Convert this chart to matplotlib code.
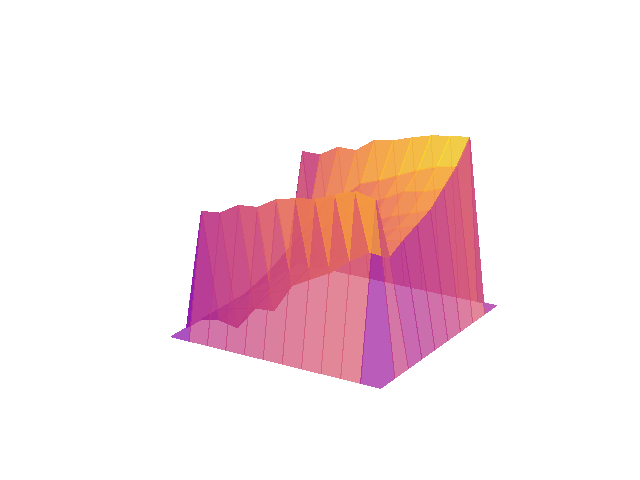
import numpy as np
import matplotlib
matplotlib.use("Agg")
import matplotlib.pyplot as plt

x_vals = list(range(12))
y_vals = list(range(10))

# one list per y row
row0 = [0, 0, 0, 0, 0, 0, 0, 0, 0, 0, 0, 0]
row1 = [0, 34.7, 35.3, 38.5, 39, 42.2, 43.5, 44.4, 46.7, 48.5, 47.3, 0]
row2 = [0, 1, 0, 7, 7.5, 16, 19, 22, 26.5, 30, 29.5, 0]
row3 = [0, 2, 3, 9, 11, 18, 21, 24, 27, 31, 32, 0]
row4 = [0, 4, 6, 11, 13, 20, 23, 26, 29, 32, 34, 0]
row5 = [0, 6, 9, 14, 16, 23, 26, 29, 32, 34, 36, 0]
row6 = [0, 8, 13, 19, 23, 28, 31, 34, 37, 38, 40, 0]
row7 = [0, 10.6, 18, 27, 29, 34, 36, 38.5, 41, 43, 44, 0]
row8 = [0, 37.5, 37.5, 40.7, 40.7, 44.7, 45.5, 47.3, 48.8, 49.7, 50.2, 0]
row9 = [0, 0, 0, 0, 0, 0, 0, 0, 0, 0, 0, 0]

fig = plt.figure(figsize=(6.4, 4.8), dpi=100)
ax = fig.add_subplot(projection="3d")
ax.set_position([0.131, 0.117, 0.775, 0.77])

X, Y = np.meshgrid(x_vals, y_vals)
Z = np.array([row0, row1, row2, row3, row4, row5, row6, row7, row8, row9])
surf = ax.plot_surface(X, Y, Z, cmap="plasma", vmin=-7, vmax=49, alpha=0.7,
                       rstride=1, cstride=1, linewidth=0, antialiased=False)
surf.set_zsort("min")
ax.view_init(elev=20, azim=-59)
ax.set_box_aspect((4, 4, 3), zoom=1.16)
ax.set_zlim(-2.6, 53.4)
ax.set_axis_off()

fig.savefig("out.png", dpi=100)
